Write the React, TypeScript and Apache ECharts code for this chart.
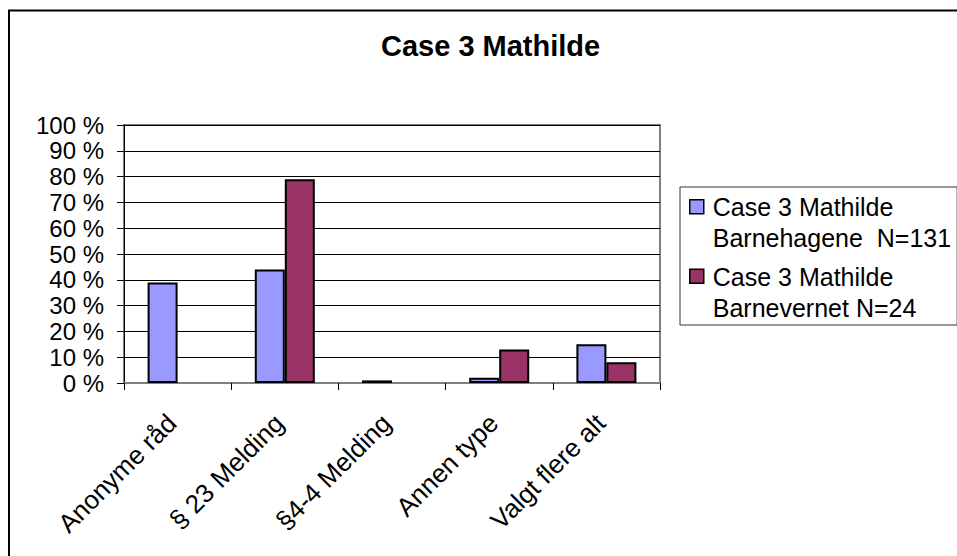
import React, { useEffect, useRef } from "react";
import * as echarts from "echarts";

const chartTitle = "Case 3 Mathilde";
const categories = ["Anonyme råd", "§ 23 Melding", "§4-4 Melding", "Annen type", "Valgt flere alt"];
const seriesNames = ["Case 3 Mathilde Barnehagene  N=131", "Case 3 Mathilde Barnevernet N=24"];
const barnehageValues = [39, 44, 1, 2, 15];
const barnevernValues = [0, 79, 0, 13, 8];
const seriesColors = ["#9999FF", "#993366"];
const yTicks = { min: 0, max: 100, interval: 10 };

const FONT = "'Liberation Sans', Arial, Helvetica, sans-serif";

export default function App() {
  const ref = useRef<HTMLDivElement>(null);
  useEffect(() => {
    if (!ref.current) return;
    const chart = echarts.init(ref.current, null, { renderer: "svg" });
    const toBar = (arr: number[]) => arr.map((v) => (v === 0 ? null : v));
    const option: any = {
      animation: false,
      backgroundColor: "#ffffff",
      title: {
        text: chartTitle,
        left: 376,
        top: 26,
        textStyle: { fontFamily: FONT, fontSize: 29, fontWeight: "bold", color: "#000" },
      },
      graphic: [
        {
          type: "rect",
          shape: { x: 9, y: 10.5, width: 1200, height: 1200 },
          style: { fill: "none", stroke: "#000", lineWidth: 2 },
          silent: true,
          z: 100,
        },
      ],
      legend: {
        orient: "vertical",
        left: 680,
        top: 187,
        padding: [4, 6, 1, 9],
        itemGap: 6,
        itemWidth: 14,
        itemHeight: 62,
        icon: "path://M0,8 L14,8 L14,22 L0,22 Z M0,0 M0,62",
        borderColor: "#333",
        borderWidth: 1,
        backgroundColor: "#fff",
        formatter: (name: string) => name.replace(chartTitle + " ", chartTitle + "\n"),
        textStyle: { fontFamily: FONT, fontSize: 25, lineHeight: 31, color: "#000", padding: [0, 0, 0, 4] },
        itemStyle: { borderColor: "#000", borderWidth: 1.5 },
      },
      grid: {
        left: 124,
        top: 125,
        right: 297,
        bottom: 173,
        show: true,
        borderColor: "#808080",
        borderWidth: 2,
        backgroundColor: "#fff",
      },
      xAxis: {
        type: "category",
        data: categories,
        axisLine: { lineStyle: { color: "#808080", width: 2 } },
        axisTick: { show: true, length: 7, lineStyle: { color: "#000", width: 1 } },
        axisLabel: {
          rotate: 45,
          margin: 30,
          interval: 0,
          fontFamily: FONT,
          fontSize: 26,
          color: "#000",
          padding: [0, 8, 0, 0],
        },
      },
      yAxis: {
        type: "value",
        min: yTicks.min,
        max: yTicks.max,
        interval: yTicks.interval,
        axisLine: { show: true, lineStyle: { color: "#000", width: 1 } },
        axisTick: { show: true, length: 7, lineStyle: { color: "#000" } },
        splitLine: { show: true, lineStyle: { color: "#000", width: 1 } },
        axisLabel: {
          margin: 20,
          fontFamily: FONT,
          fontSize: 24,
          color: "#000",
          formatter: (v: number) => `${v} %`,
        },
      },
      series: [
        {
          name: seriesNames[0],
          type: "bar",
          data: toBar(barnehageValues),
          barWidth: 30,
          barGap: "0%",
          itemStyle: { color: seriesColors[0], borderColor: "#000", borderWidth: 2 },
        },
        {
          name: seriesNames[1],
          type: "bar",
          data: toBar(barnevernValues),
          barWidth: 30,
          barGap: "0%",
          itemStyle: { color: seriesColors[1], borderColor: "#000", borderWidth: 2 },
        },
      ],
    };
    chart.setOption(option);
    return () => chart.dispose();
  }, []);
  return (
    <div
      ref={ref}
      style={{ position: "fixed", left: 0, top: 0, width: 957, height: 556, background: "#fff" }}
    />
  );
}
